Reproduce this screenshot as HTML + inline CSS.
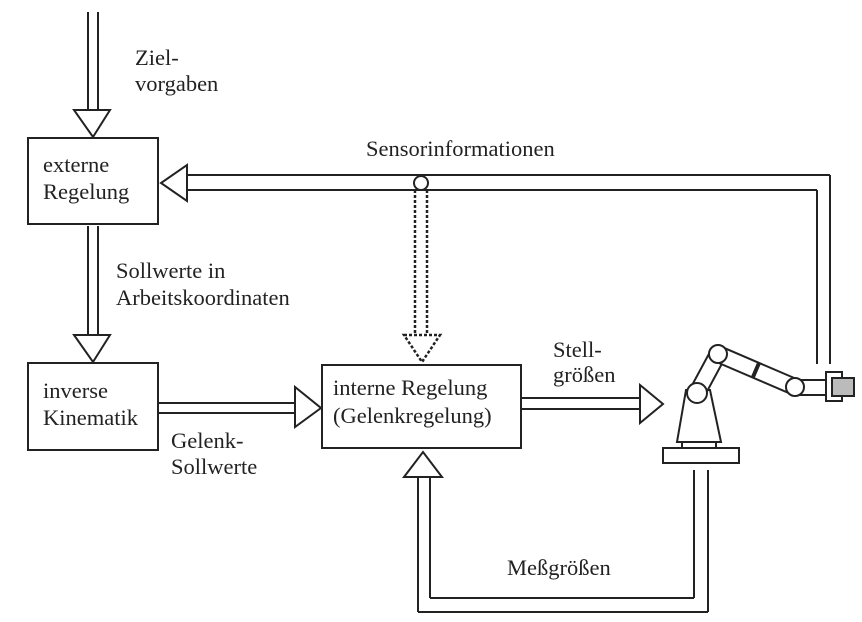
<!DOCTYPE html>
<html><head><meta charset="utf-8"><style>
html,body{margin:0;padding:0;background:#fff;}
svg{display:block;}
text{font-family:"Liberation Serif",serif;font-size:22.5px;fill:#222;}
</style></head><body>
<svg width="862" height="622" viewBox="0 0 862 622" xmlns="http://www.w3.org/2000/svg">
<g stroke="#222" stroke-width="2" fill="none">
<line x1="88" y1="12" x2="88" y2="110"/><line x1="98" y1="12" x2="98" y2="110"/>
<polygon points="74,110 110,110 93,137" fill="#fff"/>
<rect x="28" y="138" width="130" height="86" fill="#fff"/>
<line x1="88" y1="226" x2="88" y2="335"/><line x1="98" y1="226" x2="98" y2="335"/>
<polygon points="74,335 110,335 93,362" fill="#fff"/>
<rect x="28" y="363" width="130" height="87" fill="#fff"/>
<line x1="158" y1="403" x2="295" y2="403"/><line x1="158" y1="413" x2="295" y2="413"/>
<polygon points="295,387 295,427 321,408" fill="#fff"/>
<rect x="322" y="365" width="199" height="83" fill="#fff"/>
<line x1="187" y1="175" x2="830" y2="175"/><line x1="187" y1="190" x2="817" y2="190"/>
<line x1="830" y1="175" x2="830" y2="364"/><line x1="817" y1="190" x2="817" y2="364"/>
<polygon points="187,165 187,201 161,183" fill="#fff"/>
<circle cx="421" cy="183" r="7" fill="#fff"/>
<g stroke-dasharray="3,2" stroke-width="2.5">
<line x1="415" y1="190" x2="415" y2="335"/><line x1="427" y1="190" x2="427" y2="335"/>
<polygon points="404,335 440,335 422,362"/>
</g>
<line x1="521" y1="398" x2="640" y2="398"/><line x1="521" y1="409" x2="640" y2="409"/>
<polygon points="640,385 640,423 663,404" fill="#fff"/>
<polygon points="404,477 442,477 423,452" fill="#fff"/>
<line x1="418" y1="477" x2="418" y2="612"/><line x1="430" y1="477" x2="430" y2="598"/>
<line x1="418" y1="612" x2="708" y2="612"/><line x1="430" y1="598" x2="694" y2="598"/>
<line x1="694" y1="470" x2="694" y2="598"/><line x1="708" y1="470" x2="708" y2="612"/>
<rect x="663" y="448" width="76" height="15" fill="#fff"/>
<rect x="682" y="442" width="34" height="6" fill="#fff"/>
<polygon points="677,442 721,442 710,390 686,390" fill="#fff"/>
<polygon points="690,389 711,350 725,358 704,397" fill="#fff"/>
<polygon points="721,346.6 798,379.6 792,394.4 715,361.4" fill="#fff"/>
<line x1="759" y1="363" x2="753" y2="377" stroke-width="4"/>
<rect x="800" y="380" width="28" height="15" fill="#fff"/>
<circle cx="697" cy="393" r="10" fill="#fff"/>
<circle cx="718" cy="354" r="9" fill="#fff"/>
<circle cx="795" cy="387" r="9" fill="#fff"/>
<rect x="826" y="372" width="16" height="29" fill="#fff"/>
<rect x="832" y="378" width="22" height="18" fill="#bbb"/>
</g>
<text x="135" y="65">Ziel-</text>
<text x="135" y="91">vorgaben</text>
<text x="43" y="172">externe</text>
<text x="43" y="199">Regelung</text>
<text x="366" y="156">Sensorinformationen</text>
<text x="116" y="278">Sollwerte in</text>
<text x="116" y="305">Arbeitskoordinaten</text>
<text x="43" y="398">inverse</text>
<text x="43" y="425">Kinematik</text>
<text x="171" y="448">Gelenk-</text>
<text x="171" y="474">Sollwerte</text>
<text x="333" y="395">interne Regelung</text>
<text x="333" y="423">(Gelenkregelung)</text>
<text x="553" y="357">Stell-</text>
<text x="553" y="382">größen</text>
<text x="507" y="575">Meßgrößen</text>
</svg>
</body></html>
